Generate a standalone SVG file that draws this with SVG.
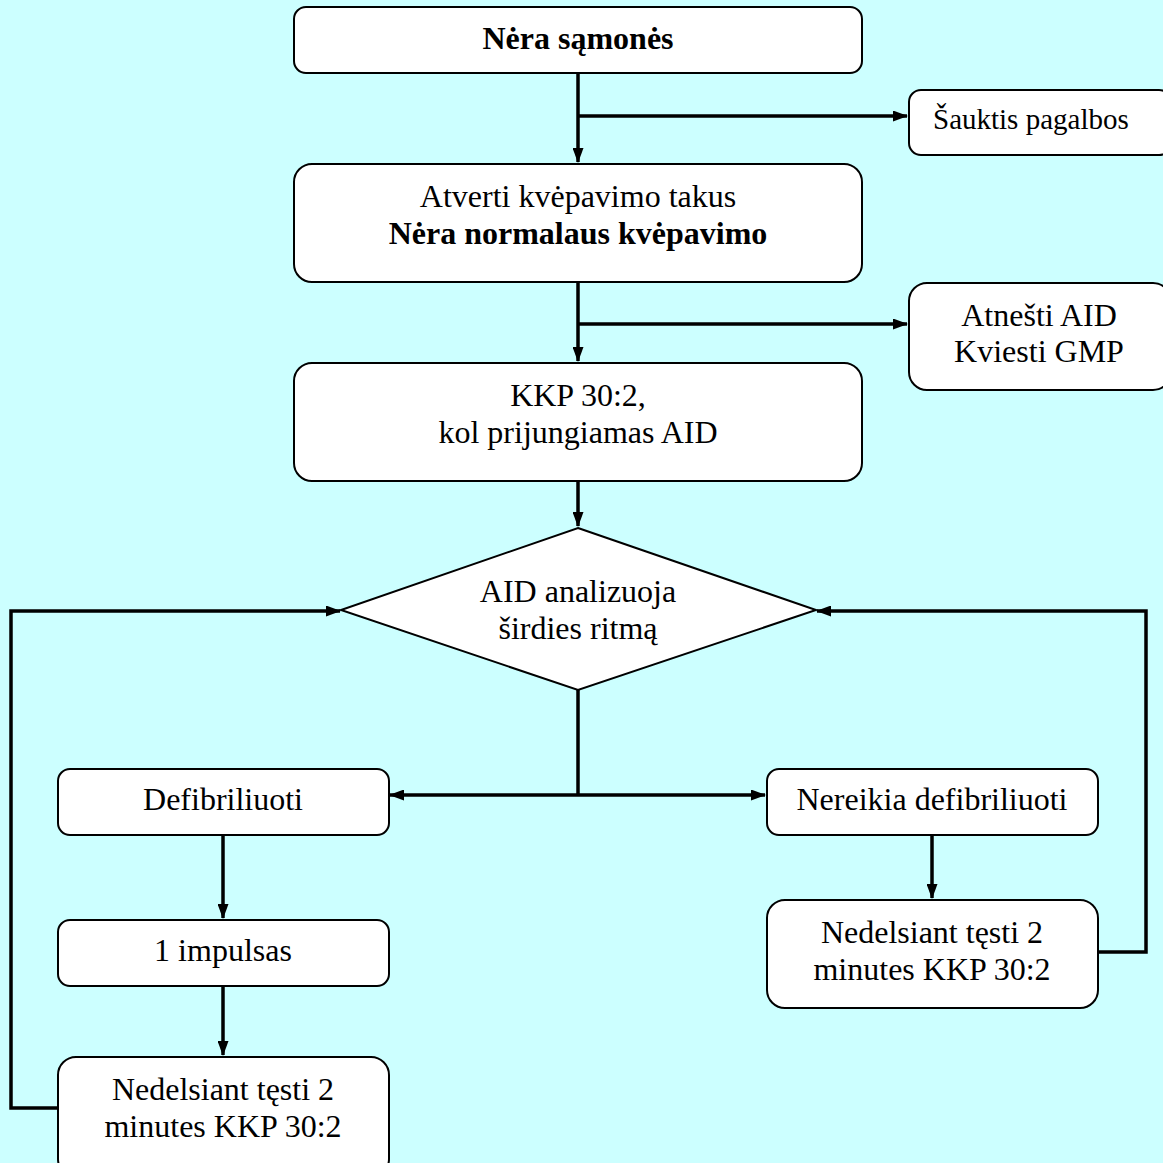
<svg xmlns="http://www.w3.org/2000/svg" width="1163" height="1163" viewBox="0 0 1163 1163">
<defs>
<marker id="ah" markerWidth="15" markerHeight="11" refX="14" refY="5.5" orient="auto" markerUnits="userSpaceOnUse">
<path d="M0,0 L15,5.5 L0,11 Z" fill="#000"/>
</marker>
<style>
.box{fill:#fff;stroke:#000;stroke-width:2}
.t{font-family:"Liberation Serif","Times New Roman",serif;font-size:32px;fill:#000;text-anchor:middle}
.b{font-weight:bold}
.c{fill:none;stroke:#000;stroke-width:3.5}
</style>
</defs>
<rect width="1163" height="1163" fill="#CCFFFF"/>
<g id="connectors">
<path class="c" d="M578,73 V162" marker-end="url(#ah)"/>
<path class="c" d="M578,116 H907" marker-end="url(#ah)"/>
<path class="c" d="M578,282 V361" marker-end="url(#ah)"/>
<path class="c" d="M578,324 H907" marker-end="url(#ah)"/>
<path class="c" d="M578,481 V526" marker-end="url(#ah)"/>
<path class="c" d="M578,690 V795"/>
<path class="c" d="M578,795 H390" marker-end="url(#ah)"/>
<path class="c" d="M578,795 H765" marker-end="url(#ah)"/>
<path class="c" d="M223,835 V918" marker-end="url(#ah)"/>
<path class="c" d="M223,986 V1055" marker-end="url(#ah)"/>
<path class="c" d="M932,835 V898" marker-end="url(#ah)"/>
<path class="c" d="M58,1108 H11 V611 H340" marker-end="url(#ah)"/>
<path class="c" d="M1098,952 H1146 V611 H817" marker-end="url(#ah)"/>
</g>
<g id="n1"><rect class="box" x="294" y="7" width="568" height="66" rx="12"/><text class="t b" x="578" y="49">Nėra sąmonės</text></g>
<g id="n2"><rect class="box" x="909" y="90" width="262" height="65" rx="12"/><text class="t" x="933" y="129" style="text-anchor:start;font-size:29px">Šauktis pagalbos</text></g>
<g id="n3"><rect class="box" x="294" y="164" width="568" height="118" rx="18"/><text class="t" x="578" y="207">Atverti kvėpavimo takus</text><text class="t b" x="578" y="244">Nėra normalaus kvėpavimo</text></g>
<g id="n4"><rect class="box" x="909" y="283" width="262" height="107" rx="18"/><text class="t" x="1039" y="326">Atnešti AID</text><text class="t" x="1039" y="362">Kviesti GMP</text></g>
<g id="n5"><rect class="box" x="294" y="363" width="568" height="118" rx="18"/><text class="t" x="578" y="406">KKP 30:2,</text><text class="t" x="578" y="443">kol prijungiamas AID</text></g>
<g id="n6"><polygon class="box" points="578,528 816,610 578,690 341,610"/><text class="t" x="578" y="602">AID analizuoja</text><text class="t" x="578" y="639">širdies ritmą</text></g>
<g id="n7"><rect class="box" x="58" y="769" width="331" height="66" rx="12"/><text class="t" x="223" y="810">Defibriliuoti</text></g>
<g id="n8"><rect class="box" x="767" y="769" width="331" height="66" rx="12"/><text class="t" x="932" y="810">Nereikia defibriliuoti</text></g>
<g id="n9"><rect class="box" x="58" y="920" width="331" height="66" rx="12"/><text class="t" x="223" y="961">1 impulsas</text></g>
<g id="n10"><rect class="box" x="767" y="900" width="331" height="108" rx="18"/><text class="t" x="932" y="943">Nedelsiant tęsti 2</text><text class="t" x="932" y="980">minutes KKP 30:2</text></g>
<g id="n11"><rect class="box" x="58" y="1057" width="331" height="120" rx="18"/><text class="t" x="223" y="1100">Nedelsiant tęsti 2</text><text class="t" x="223" y="1137">minutes KKP 30:2</text></g>
</svg>
